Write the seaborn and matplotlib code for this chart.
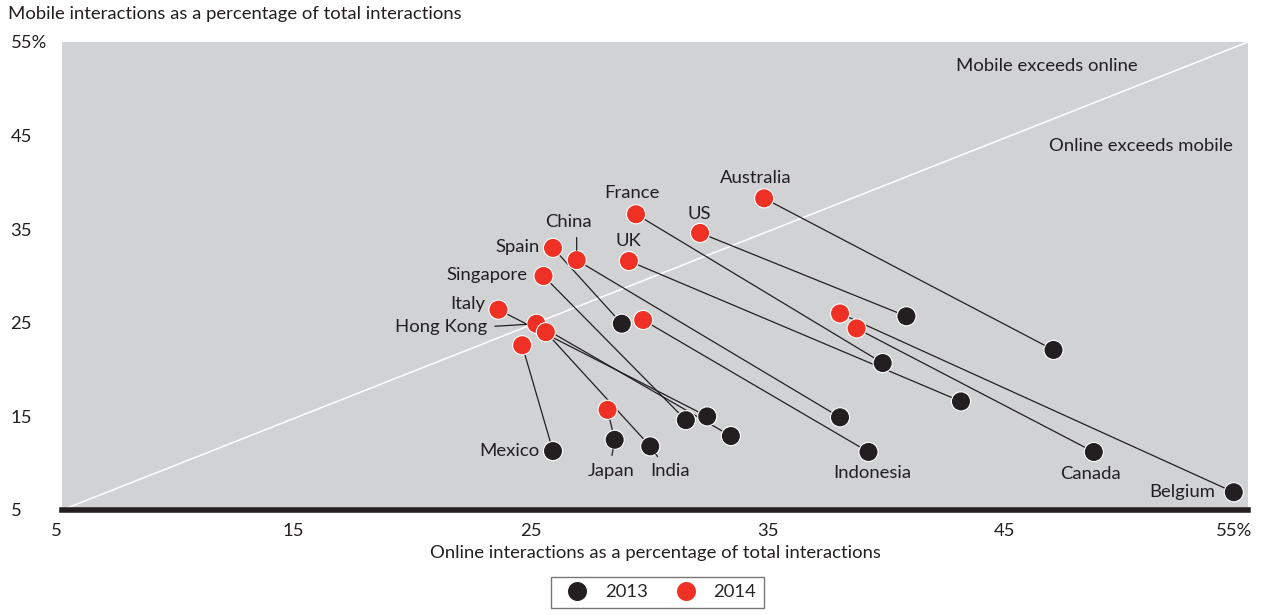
# mobile vs online share of interactions, 2013 -> 2014 by country

import matplotlib
matplotlib.use("Agg")
import matplotlib.pyplot as plt
import matplotlib.transforms as mtransforms
import pandas as pd
import seaborn as sns

countries = ["Australia", "France", "US", "UK", "China", "Spain", "Singapore", "Italy",
             "Hong Kong", "India", "Mexico", "Indonesia", "Japan", "Belgium", "Canada"]
online_2013 = [46.8, 39.6, 40.6, 42.9, 37.8, 28.6, 31.3, 32.2, 33.2, 29.8, 25.7, 39.0, 28.3, 54.4, 48.5]
mobile_2013 = [22.1, 20.7, 25.7, 16.6, 14.9, 24.9, 14.6, 15.0, 12.9, 11.8, 11.3, 11.2, 12.5, 6.9, 11.2]
online_2014 = [34.6, 29.2, 31.9, 28.9, 26.7, 25.7, 25.3, 23.4, 25.0, 25.4, 24.4, 29.5, 28.0, 37.8, 38.5]
mobile_2014 = [38.3, 36.6, 34.6, 31.6, 31.7, 33.0, 30.0, 26.4, 24.9, 24.0, 22.6, 25.3, 15.7, 26.0, 24.4]
years = ["2013", "2014"]
ticks = [5, 15, 25, 35, 45, 55]
tick_labels = ["5", "15", "25", "35", "45", "55%"]

# label placement: (year the label sits on, dx px, dy px, ha, leader line)
label_pos = {
    "Australia": ("2014", -8, 20, "center", None),
    "France": ("2014", -4, 21, "center", None),
    "US": ("2014", -1, 19, "center", None),
    "UK": ("2014", -1, 20, "center", None),
    "China": ("2014", -8, 38, "center", (0.67, 0.0)),
    "Spain": ("2014", -13, 1, "right", None),
    "Singapore": ("2014", -16, 1, "right", None),
    "Italy": ("2014", -13, 6, "right", None),
    "Hong Kong": ("2014", -49, -3, "right", (1.0, 0.5)),
    "India": ("2013", 20, -25, "center", (0.3, 1.0)),
    "Mexico": ("2013", -14, 0, "right", None),
    "Indonesia": ("2013", 4, -21, "center", None),
    "Japan": ("2013", -4, -31, "center", (0.5, 1.0)),
    "Belgium": ("2013", -19, 0, "right", None),
    "Canada": ("2013", -3, -22, "center", None),
}

df = pd.concat([
    pd.DataFrame({"country": countries, "online": online_2013, "mobile": mobile_2013, "year": "2013"}),
    pd.DataFrame({"country": countries, "online": online_2014, "mobile": mobile_2014, "year": "2014"}),
], ignore_index=True)

sns.set_style("white")
plt.rcParams["font.family"] = ["Lato", "DejaVu Sans"]
dark = "#231f20"
red = "#ee3124"
fs = 13.3

fig = plt.figure(figsize=(12.63, 6.15), dpi=100)
ax = fig.add_axes([62 / 1263, 105 / 615, 1186 / 1263, 468 / 615])
ax.set_facecolor("#d1d2d4")

ax.axline((5, 5), slope=1, color="white", lw=1.1, zorder=1)

sns.lineplot(data=df, x="online", y="mobile", units="country", estimator=None, sort=False,
             color=dark, lw=0.9, legend=False, ax=ax, zorder=2)
sns.scatterplot(data=df, x="online", y="mobile", hue="year", hue_order=years,
                palette={"2013": dark, "2014": red}, s=190, edgecolor="white", linewidth=0.8,
                ax=ax, zorder=3)

for i, c in enumerate(countries):
    yr, dx, dy, ha, lead = label_pos[c]
    px = online_2013[i] if yr == "2013" else online_2014[i]
    py = mobile_2013[i] if yr == "2013" else mobile_2014[i]
    kw = {}
    if lead is not None:
        kw["arrowprops"] = dict(arrowstyle="-", color=dark, lw=0.9, relpos=lead,
                                shrinkA=3, shrinkB=7)
    ax.annotate(c, (px, py), xytext=(dx, dy), textcoords="offset pixels",
                ha=ha, va="center", fontsize=fs, color=dark, zorder=4, **kw)

ax.text(46.5, 52.4, "Mobile exceeds online", ha="center", va="center", fontsize=fs, color=dark)
ax.text(50.5, 43.9, "Online exceeds mobile", ha="center", va="center", fontsize=fs, color=dark)

ax.set_xlim(5, 55)
ax.set_ylim(5, 55)
ax.set_xticks(ticks)
ax.set_xticklabels(tick_labels)
ax.set_yticks(ticks)
ax.set_yticklabels(tick_labels, ha="left")
ax.tick_params(axis="x", length=0, pad=9, labelsize=fs, labelcolor=dark)
ax.tick_params(axis="y", length=0, pad=37, labelsize=fs, labelcolor=dark)

# x tick labels sit a little left of their ticks in the original
shift = mtransforms.ScaledTranslation(-6 / 100, 0, fig.dpi_scale_trans)
for lab in ax.get_xticklabels():
    lab.set_transform(lab.get_transform() + shift)
ax.get_xticklabels()[-1].set_ha("right")
ax.get_xticklabels()[-1].set_transform(ax.get_xticklabels()[-1].get_transform()
                                       + mtransforms.ScaledTranslation(10 / 100, 0, fig.dpi_scale_trans))

for side in ["top", "right", "left"]:
    ax.spines[side].set_visible(False)
ax.spines["bottom"].set_color(dark)
ax.spines["bottom"].set_linewidth(4)

ax.set_xlabel("Online interactions as a percentage of total interactions", fontsize=fs, color=dark,
              va="center")
ax.xaxis.set_label_coords(0.5, -0.092)
ax.set_ylabel("Mobile interactions as a percentage of total interactions", fontsize=fs, color=dark,
              rotation=0, ha="left", va="center")
ax.yaxis.set_label_coords(-0.0455, 1.06)

sns.move_legend(ax, "upper center", bbox_to_anchor=(0.5206, 0.062), bbox_transform=fig.transFigure,
                ncol=2, title=None, frameon=True, fancybox=False, fontsize=fs, markerscale=1.05,
                handletextpad=0.5, columnspacing=1.05, borderpad=0.4, borderaxespad=0)
leg = ax.get_legend()
leg.get_frame().set_edgecolor("#555555")
leg.get_frame().set_linewidth(1)

fig.savefig("out.png", dpi=100)
